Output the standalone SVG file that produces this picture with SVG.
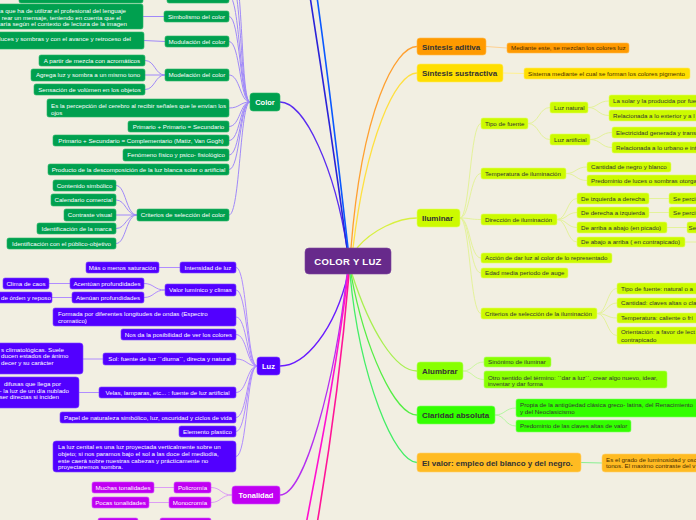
<svg xmlns="http://www.w3.org/2000/svg" width="696" height="520" viewBox="0 0 696 520">
<style>
text{font-family:"Liberation Sans",Arial,sans-serif;font-size:6.2px}
.w{fill:#fff}.k{fill:#333}.br{fill:#4a2c00}
.m{text-anchor:middle}.e{text-anchor:end}
.B{font-weight:bold;font-size:8px}
.g{fill:#00a04f;stroke:#25b566;stroke-width:.6}
.v{fill:#5200ff;stroke:#7a44ff;stroke-width:.6}
.p{fill:#c000f2;stroke:#d050ff;stroke-width:.6}
.y{fill:#ccfa00;stroke:#e0ff60;stroke-width:.6}
.o{fill:#ff9a00;stroke:#ffb84a;stroke-width:.6}
.yl{fill:#ffde00;stroke:#ffea60;stroke-width:.6}
.lm{fill:#88ff00;stroke:#b0ff60;stroke-width:.6}
.gr{fill:#33ff00;stroke:#80ff60;stroke-width:.6}
.am{fill:#ffbb22;stroke:#ffd070;stroke-width:.6}
#connectors path{fill:none}
.cg{stroke:#8c70ff;stroke-width:1;opacity:.8}
.cv{stroke:#b08cff;stroke-width:1}
.cp{stroke:#dc9cf5;stroke-width:1}
.cy{stroke:#e4f29a;stroke-width:1}
</style>
<rect width="696" height="520" fill="#f2efe2"/>
<g id="connectors">
<path d="M280,102 C305,102 335,170 347,248" stroke="#5a2cf0" stroke-width="1.3"/>
<path d="M347,248 C335,160 320,60 309,-10" stroke="#2a22d8" stroke-width="1.6"/>
<path d="M348,248 C338,160 326,60 316,-10" stroke="#0a58ff" stroke-width="1.6"/>
<path d="M280,366 C305,366 335,330 348,274" stroke="#6a1cff" stroke-width="1.3"/>
<path d="M280,495 C305,495 335,380 347,274" stroke="#b52ff0" stroke-width="1.3"/>
<path d="M348,274 C335,380 318,460 305,530" stroke="#ff10d0" stroke-width="1.6"/>
<path d="M349,274 C340,380 328,460 316,530" stroke="#ff1498" stroke-width="1.6"/>
<path d="M417,46.5 C395,46.5 362,110 351,248" stroke="#ffa030" stroke-width="1.3"/>
<path d="M417,73 C395,73 366,140 353,248" stroke="#ffe040" stroke-width="1.3"/>
<path d="M417,218 C398,218 372,230 357,248" stroke="#d8f040" stroke-width="1.3"/>
<path d="M352,274 C370,330 395,371 417,371" stroke="#a8f050" stroke-width="1.3"/>
<path d="M351,274 C365,350 395,415 417,415" stroke="#55ee44" stroke-width="1.3"/>
<path d="M350,274 C360,380 395,462.5 417,462.5" stroke="#44ee66" stroke-width="1.3"/>
<g class="cg">
<path d="M229,-4 C240,-4 240,102 250,102"/>
<path d="M229,-25 C242,-25 240,102 250,102"/>
<path d="M229,-45 C244,-45 240,102 250,102"/>
<path d="M229,16.5 C240,16.5 240,102 250,102"/>
<path d="M229,41.5 C240,41.5 240,102 250,102"/>
<path d="M229,75 C240,75 240,102 250,102"/>
<path d="M229,108 C240,108 240,102 250,102"/>
<path d="M229,126.5 C240,126.5 240,102 250,102"/>
<path d="M229,140.5 C240,140.5 240,102 250,102"/>
<path d="M229,155 C240,155 240,102 250,102"/>
<path d="M229,169.5 C240,169.5 240,102 250,102"/>
<path d="M229,215 C240,215 240,102 250,102"/>
<path d="M143,16.5 L164,16.5"/>
<path d="M144,40.5 L165,41.5"/>
<path d="M165,75 C155,75 155,60.5 145,60.5"/>
<path d="M165,75 L145,75"/>
<path d="M165,75 C155,75 155,89.5 145,89.5"/>
<path d="M137,215 C126,215 126,185.5 116,185.5"/>
<path d="M137,215 C126,215 126,200 116,200"/>
<path d="M137,215 L116,215"/>
<path d="M137,215 C126,215 126,228.5 116,228.5"/>
<path d="M137,215 C126,215 126,243.5 116,243.5"/>
</g>
<g class="cv">
<path d="M236,267.5 C247,267.5 247,366 257,366"/>
<path d="M236,290 C247,290 247,366 257,366"/>
<path d="M236,317 C247,317 247,366 257,366"/>
<path d="M236,334.5 C247,334.5 247,366 257,366"/>
<path d="M236,359 C247,359 247,366 257,366"/>
<path d="M236,392.5 C247,392.5 247,366 257,366"/>
<path d="M236,417.5 C247,417.5 247,366 257,366"/>
<path d="M236,431.5 C247,431.5 247,366 257,366"/>
<path d="M236,456.5 C247,456.5 247,366 257,366"/>
<path d="M180,267.5 L159,267.5"/>
<path d="M165,290 C154,290 154,283.5 144,283.5"/>
<path d="M165,290 C154,290 154,297.5 144,297.5"/>
<path d="M70,283.5 L49,283.5"/>
<path d="M72,297.5 L52,297.5"/>
<path d="M103,359 L83,359"/>
<path d="M99,392.5 L79,392.5"/>
</g>
<g class="cp">
<path d="M232,495 C221,495 221,487.5 211,487.5"/>
<path d="M232,495 C221,495 221,502.5 211,502.5"/>
<path d="M174,487.5 L154,487.5"/>
<path d="M169,502.5 L149,502.5"/>
</g>
<g class="cy">
<path d="M460,218 C470,218 470,123.5 481,123.5"/>
<path d="M460,218 C470,218 470,173.5 481,173.5"/>
<path d="M460,218 C470,218 470,219.5 481,219.5"/>
<path d="M460,218 C470,218 470,258 481,258"/>
<path d="M460,218 C470,218 470,273 481,273"/>
<path d="M460,218 C470,218 470,313.5 481,313.5"/>
<path d="M528,123.5 C539,123.5 539,107.5 550,107.5"/>
<path d="M528,123.5 C539,123.5 539,139.5 550,139.5"/>
<path d="M588,107.5 C598,107.5 598,101 609,101"/>
<path d="M588,107.5 C598,107.5 598,115.5 609,115.5"/>
<path d="M590,139.5 C601,139.5 601,132.5 612,132.5"/>
<path d="M590,139.5 C601,139.5 601,147.5 612,147.5"/>
<path d="M566,173.5 C576,173.5 576,167 587,167"/>
<path d="M566,173.5 C576,173.5 576,180.5 587,180.5"/>
<path d="M557,219.5 C567,219.5 567,198.5 577,198.5"/>
<path d="M557,219.5 C567,219.5 567,212.5 577,212.5"/>
<path d="M557,219.5 C567,219.5 567,227.5 577,227.5"/>
<path d="M557,219.5 C567,219.5 567,242 577,242"/>
<path d="M649,198.5 L669,198.5"/>
<path d="M649,212.5 L669,212.5"/>
<path d="M667,227.5 L687,227.5"/>
<path d="M685,242 L700,242"/>
<path d="M597,313.5 C607,313.5 607,288.5 617,288.5"/>
<path d="M597,313.5 C607,313.5 607,303 617,303"/>
<path d="M597,313.5 C607,313.5 607,318 617,318"/>
<path d="M597,313.5 C607,313.5 607,335.5 617,335.5"/>
</g>
<path d="M486,46.5 L507,48" stroke="#ffd090" stroke-width="1"/>
<path d="M503,73 L524,73.5" stroke="#fff090" stroke-width="1"/>
<path d="M463,371 C473,371 473,362 484,362" stroke="#ccf7a0" stroke-width="1"/>
<path d="M463,371 C473,371 473,379.5 484,379.5" stroke="#ccf7a0" stroke-width="1"/>
<path d="M495,415 C505,415 505,408 516,408" stroke="#b4f7a0" stroke-width="1"/>
<path d="M495,415 C505,415 505,426 516,426" stroke="#b4f7a0" stroke-width="1"/>
<path d="M581,462.5 L602,463" stroke="#88f090" stroke-width="1"/>
</g>

<g id="center"><rect x="305" y="248" width="86" height="26" rx="4" fill="#672a8b" stroke="#7d44a0" stroke-width=".6"/><text x="348" y="265" class="w m" style="font-weight:bold;font-size:9.5px;letter-spacing:.3px">COLOR Y LUZ</text></g>

<g id="color"><rect class="g" x="250" y="93" width="30" height="18" rx="3"/><text x="265" y="105" class="w m" style="font-weight:bold;font-size:7.5px">Color</text></g>
<g id="c_top1"><rect class="g" x="19" y="-10" width="124" height="13" rx="2"/></g>
<g id="c_top2"><rect class="g" x="167" y="-10" width="62" height="13" rx="2"/></g>
<g id="c_simb_txt"><rect class="g" x="-10" y="4" width="153" height="25" rx="2"/><text x="126" y="12.8" class="w e">a que ha de utilizar el profesional del lenguaje</text><text x="121" y="19.5" class="w e">rear un mensaje, teniendo en cuenta que el</text><text x="127" y="26.2" class="w e">aría según el contexto de lectura de la imagen</text></g>
<g id="c_simb"><rect class="g" x="164" y="11" width="65" height="11" rx="2"/><text x="196.5" y="18.7" class="w m">Simbolismo del color</text></g>
<g id="c_modu_txt"><rect class="g" x="-10" y="32" width="154" height="17" rx="2"/><text x="131" y="40.5" class="w e">luces y sombras y con el avance y retroceso del</text></g>
<g id="c_modu"><rect class="g" x="165" y="36" width="64" height="11" rx="2"/><text x="197" y="43.7" class="w m">Modulación del color</text></g>
<g id="c_mode"><rect class="g" x="165" y="69" width="64" height="12" rx="2"/><text x="197" y="77.2" class="w m">Modelación del color</text></g>
<g id="c_mode1"><rect class="g" x="39" y="55" width="106" height="11" rx="2"/><text x="92" y="62.7" class="w m">A partir de mezcla con acromáticos</text></g>
<g id="c_mode2"><rect class="g" x="31" y="69" width="114" height="12" rx="2"/><text x="88" y="77.2" class="w m">Agrega luz y sombra a un mismo tono</text></g>
<g id="c_mode3"><rect class="g" x="34" y="84" width="111" height="11" rx="2"/><text x="89.5" y="91.7" class="w m">Sensación de volúmen en los objetos</text></g>
<g id="c_perc"><rect class="g" x="47" y="99" width="182" height="18" rx="2"/><text x="51" y="107.8" class="w">Es la percepción del cerebro al recibir señales que le envían los</text><text x="51" y="114.6" class="w">ojos</text></g>
<g id="c_p1"><rect class="g" x="128" y="121" width="101" height="11" rx="2"/><text x="178.5" y="128.7" class="w m">Primario + Primario = Secundario</text></g>
<g id="c_p2"><rect class="g" x="53" y="135" width="176" height="11" rx="2"/><text x="141" y="142.7" class="w m">Primario + Secundario = Complementario (Matiz, Van Gogh)</text></g>
<g id="c_fen"><rect class="g" x="123" y="149" width="106" height="12" rx="2"/><text x="176" y="157.2" class="w m">Fenómeno físico y psico- fisiológico</text></g>
<g id="c_prod"><rect class="g" x="48" y="164" width="181" height="11" rx="2"/><text x="138.5" y="171.7" class="w m">Producto de la descomposición de la luz blanca solar o artificial</text></g>
<g id="c_crit"><rect class="g" x="137" y="209" width="92" height="12" rx="2"/><text x="183" y="217.2" class="w m">Criterios de selección del color</text></g>
<g id="c_cr1"><rect class="g" x="53" y="180" width="63" height="11" rx="2"/><text x="84.5" y="187.7" class="w m">Contenido simbólico</text></g>
<g id="c_cr2"><rect class="g" x="51" y="194" width="65" height="12" rx="2"/><text x="83.5" y="202.2" class="w m">Calendario comercial</text></g>
<g id="c_cr3"><rect class="g" x="64" y="209" width="52" height="12" rx="2"/><text x="90" y="217.2" class="w m">Contraste visual</text></g>
<g id="c_cr4"><rect class="g" x="37" y="223" width="79" height="11" rx="2"/><text x="76.5" y="230.7" class="w m">Identificación de la marca</text></g>
<g id="c_cr5"><rect class="g" x="7" y="238" width="109" height="11" rx="2"/><text x="61.5" y="245.7" class="w m">Identificación con el público-objetivo</text></g>

<g id="luz"><rect class="v" x="257" y="357" width="23" height="18" rx="3"/><text x="268.5" y="368.8" class="w m" style="font-weight:bold;font-size:7.5px">Luz</text></g>
<g id="l_int"><rect class="v" x="180" y="262" width="56" height="11" rx="2"/><text x="208" y="269.7" class="w m">Intensidad de luz</text></g>
<g id="l_sat"><rect class="v" x="86" y="262" width="73" height="11" rx="2"/><text x="122.5" y="269.7" class="w m">Más o menos saturación</text></g>
<g id="l_val"><rect class="v" x="165" y="284" width="71" height="12" rx="2"/><text x="200.5" y="292.2" class="w m">Valor lumínico y climas</text></g>
<g id="l_acen"><rect class="v" x="70" y="278" width="74" height="11" rx="2"/><text x="107" y="285.7" class="w m">Acentúan profundidades</text></g>
<g id="l_caos"><rect class="v" x="3" y="278" width="46" height="11" rx="2"/><text x="26" y="285.7" class="w m">Clima de caos</text></g>
<g id="l_aten"><rect class="v" x="72" y="292" width="72" height="11" rx="2"/><text x="108" y="299.7" class="w m">Atenúan profundidades</text></g>
<g id="l_orden"><rect class="v" x="-10" y="292" width="62" height="11" rx="2"/><text x="1" y="299.7" class="w">de órden y reposo</text></g>
<g id="l_form"><rect class="v" x="53" y="308" width="183" height="18" rx="2"/><text x="58" y="315.5" class="w">Formada por diferentes longitudes de ondas (Espectro</text><text x="58" y="322.8" class="w">cromatico)</text></g>
<g id="l_nos"><rect class="v" x="121" y="329" width="115" height="11" rx="2"/><text x="178.5" y="336.7" class="w m">Nos da la posibilidad de ver los colores</text></g>
<g id="l_sol"><rect class="v" x="103" y="353" width="133" height="12" rx="2"/><text x="169.5" y="361.2" class="w m">Sol: fuente de luz ``diurna´´, directa y natural</text></g>
<g id="l_soltxt"><rect class="v" x="-10" y="343" width="93" height="31" rx="3"/><text x="1" y="351.5" class="w">s climatológicas. Suele</text><text x="1" y="358.3" class="w">ducen estados de ánimo</text><text x="1" y="365.1" class="w">decer y su carácter</text></g>
<g id="l_vel"><rect class="v" x="99" y="387" width="137" height="11" rx="2"/><text x="167.5" y="394.7" class="w m">Velas, lamparas, etc... : fuente de luz artificial</text></g>
<g id="l_veltxt"><rect class="v" x="-10" y="377" width="89" height="31" rx="3"/><text x="61" y="386" class="w e">difusas que llega por</text><text x="69" y="392.7" class="w e">- la luz de un día nublado</text><text x="59" y="399.4" class="w e">ser directas si inciden</text></g>
<g id="l_pap"><rect class="v" x="60" y="412" width="176" height="11" rx="2"/><text x="148" y="419.7" class="w m">Papel de naturaleza simbólico, luz, oscuridad y ciclos de vida</text></g>
<g id="l_elem"><rect class="v" x="179" y="426" width="57" height="11" rx="2"/><text x="207.5" y="433.7" class="w m">Elemento plastico</text></g>
<g id="l_cen"><rect class="v" x="53" y="441" width="183" height="31" rx="3"/><text x="58" y="449.2" class="w">La luz cenital es una luz proyectada verticalmente sobre un</text><text x="58" y="455.9" class="w">objeto; si nos paramos bajo el sol a las doce del mediodía,</text><text x="58" y="462.6" class="w">este caerá sobre nuestras cabezas y prácticamente no</text><text x="58" y="469.3" class="w">proyectaremos sombra.</text></g>

<g id="tonalidad"><rect class="p" x="232" y="486" width="48" height="18" rx="3"/><text x="256" y="497.8" class="w m" style="font-weight:bold;font-size:7.5px">Tonalidad</text></g>
<g id="t_poli"><rect class="p" x="174" y="482" width="37" height="11" rx="2"/><text x="192.5" y="489.7" class="w m">Policromía</text></g>
<g id="t_much"><rect class="p" x="92" y="482" width="62" height="11" rx="2"/><text x="123" y="489.7" class="w m">Muchas tonalidades</text></g>
<g id="t_mono"><rect class="p" x="169" y="497" width="42" height="11" rx="2"/><text x="190" y="504.7" class="w m">Monocromía</text></g>
<g id="t_poca"><rect class="p" x="92" y="497" width="57" height="11" rx="2"/><text x="120.5" y="504.7" class="w m">Pocas tonalidades</text></g>
<g id="t_b1"><rect class="p" x="98" y="518" width="40" height="12" rx="2"/></g>
<g id="t_b2"><rect class="p" x="160" y="518" width="51" height="12" rx="2"/></g>

<g id="s_adit"><rect class="o" x="417" y="38" width="69" height="17" rx="3"/><text x="422" y="49.5" class="k B">Síntesis aditiva</text></g>
<g id="s_adit_c"><rect class="o" x="507" y="43" width="122" height="10" rx="2"/><text x="511" y="50.3" class="br">Mediante este, se mezclan los colores luz</text></g>
<g id="s_sus"><rect class="yl" x="417" y="64" width="86" height="18" rx="3"/><text x="422" y="76" class="k B">Síntesis sustractiva</text></g>
<g id="s_sus_c"><rect class="yl" x="524" y="68" width="166" height="11" rx="2"/><text x="528" y="75.6" class="br">Sistema mediante el cual se forman los colores pigmento</text></g>

<g id="iluminar"><rect class="y" x="417" y="209" width="43" height="18" rx="3"/><text x="422" y="221" class="k B">Iluminar</text></g>
<g id="i_tipo"><rect class="y" x="481" y="118" width="47" height="11" rx="2"/><text x="485" y="125.7" class="k">Tipo de fuente</text></g>
<g id="i_nat"><rect class="y" x="550" y="102" width="38" height="11" rx="2"/><text x="554" y="109.7" class="k">Luz natural</text></g>
<g id="i_nat1"><rect class="y" x="609" y="95" width="100" height="12" rx="2"/><text x="613" y="103" class="k">La solar y la producida por fue</text></g>
<g id="i_nat2"><rect class="y" x="609" y="110" width="100" height="11" rx="2"/><text x="613" y="117.7" class="k">Relacionada a lo exterior y a l</text></g>
<g id="i_art"><rect class="y" x="550" y="134" width="40" height="11" rx="2"/><text x="554" y="141.7" class="k">Luz artificial</text></g>
<g id="i_art1"><rect class="y" x="612" y="127" width="100" height="11" rx="2"/><text x="616" y="134.7" class="k">Electricidad generada y trans</text></g>
<g id="i_art2"><rect class="y" x="612" y="142" width="100" height="11" rx="2"/><text x="616" y="149.7" class="k">Relacionada a lo urbano e int</text></g>
<g id="i_temp"><rect class="y" x="481" y="168" width="85" height="11" rx="2"/><text x="485" y="175.7" class="k">Temperatura de iluminación</text></g>
<g id="i_t1"><rect class="y" x="587" y="162" width="84" height="10" rx="2"/><text x="591" y="169.3" class="k">Cantidad de negro y blanco</text></g>
<g id="i_t2"><rect class="y" x="587" y="175" width="120" height="11" rx="2"/><text x="591" y="182.7" class="k">Predominio de luces o sombras otorga</text></g>
<g id="i_dir"><rect class="y" x="481" y="214" width="76" height="11" rx="2"/><text x="485" y="221.7" class="k">Dirección de iluminación</text></g>
<g id="i_d1"><rect class="y" x="577" y="193" width="72" height="11" rx="2"/><text x="581" y="200.7" class="k">De izquierda a derecha</text></g>
<g id="i_d1c"><rect class="y" x="669" y="193" width="40" height="11" rx="2"/><text x="673" y="200.7" class="k">Se perci</text></g>
<g id="i_d2"><rect class="y" x="577" y="207" width="72" height="11" rx="2"/><text x="581" y="214.7" class="k">De derecha a izquierda</text></g>
<g id="i_d2c"><rect class="y" x="669" y="207" width="40" height="11" rx="2"/><text x="673" y="214.7" class="k">Se perci</text></g>
<g id="i_d3"><rect class="y" x="577" y="222" width="90" height="11" rx="2"/><text x="581" y="229.7" class="k">De arriba a abajo (en picado)</text></g>
<g id="i_d3c"><rect class="y" x="687" y="222" width="20" height="11" rx="2"/><text x="688.5" y="229.7" class="k">Se</text></g>
<g id="i_d4"><rect class="y" x="577" y="237" width="108" height="10" rx="2"/><text x="581" y="244.3" class="k">De abajo a arriba ( en contrapicado)</text></g>
<g id="i_acc"><rect class="y" x="481" y="253" width="131" height="10" rx="2"/><text x="485" y="260.3" class="k">Acción de dar luz al color de lo representado</text></g>
<g id="i_edad"><rect class="y" x="481" y="268" width="87" height="10" rx="2"/><text x="485" y="275.3" class="k">Edad media periodo de auge</text></g>
<g id="i_crit"><rect class="y" x="481" y="308" width="116" height="11" rx="2"/><text x="485" y="315.7" class="k">Criterios de selección de la iluminación</text></g>
<g id="i_c1"><rect class="y" x="617" y="283" width="90" height="11" rx="2"/><text x="621" y="290.7" class="k">Tipo de fuente: natural o a</text></g>
<g id="i_c2"><rect class="y" x="617" y="298" width="90" height="10" rx="2"/><text x="621" y="305.3" class="k">Cantidad: claves altas o cla</text></g>
<g id="i_c3"><rect class="y" x="617" y="313" width="90" height="10" rx="2"/><text x="621" y="320.3" class="k">Temperatura: caliente o frí</text></g>
<g id="i_c4"><rect class="y" x="617" y="327" width="90" height="17" rx="2"/><text x="621" y="334" class="k">Orientación: a favor de lect</text><text x="621" y="341.5" class="k">contrapicado</text></g>

<g id="alumbrar"><rect class="lm" x="417" y="362" width="46" height="18" rx="3"/><text x="422" y="374" class="k B">Alumbrar</text></g>
<g id="a1"><rect class="lm" x="484" y="357" width="67" height="10" rx="2"/><text x="488" y="364.3" class="k">Sinónimo de iluminar</text></g>
<g id="a2"><rect class="lm" x="484" y="371" width="183" height="17" rx="2"/><text x="488" y="379.5" class="k">Otro sentido del término: ``dar a luz´´, crear algo nuevo, idear,</text><text x="488" y="385.8" class="k">inventar y dar forma</text></g>

<g id="claridad"><rect class="gr" x="417" y="406" width="78" height="18" rx="3"/><text x="422" y="418" class="k B">Claridad absoluta</text></g>
<g id="cl1"><rect class="gr" x="516" y="399" width="190" height="18" rx="2"/><text x="520" y="407.2" class="k">Propia de la antigüedad clásica greco- latina, del Renacimiento</text><text x="520" y="413.9" class="k">y del Neoclasicismo</text></g>
<g id="cl2"><rect class="gr" x="516" y="420" width="115" height="12" rx="2"/><text x="520" y="428.2" class="k">Predominio de las claves altas de valor</text></g>

<g id="valor"><rect class="am" x="417" y="453" width="164" height="19" rx="3"/><text x="422" y="465.5" class="k B">El valor: empleo del blanco y del negro.</text></g>
<g id="val1"><rect class="am" x="602" y="454" width="110" height="18" rx="3"/><text x="606" y="461.5" class="br">Es el grado de luminosidad y osc</text><text x="606" y="467.8" class="br">tonos. El maximo contraste del v</text></g>
</svg>
